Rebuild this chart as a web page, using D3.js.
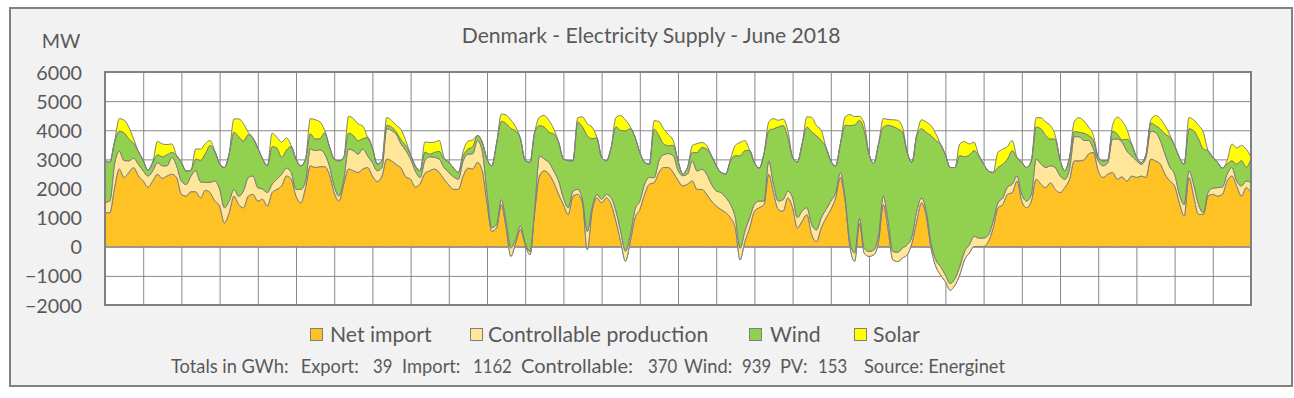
<!DOCTYPE html>
<html>
<head>
<meta charset="utf-8">
<script src="https://cdn.jsdelivr.net/npm/d3@7/dist/d3.min.js"></script>
<style>
html,body{margin:0;padding:0;background:#ffffff;}
svg{display:block;}
text{font-family:Lato,"Open Sans",sans-serif;fill:#595959;}
</style>
</head>
<body>
<svg id="chart" width="1294" height="398"></svg>
<script>
const chartTitle = "Denmark - Electricity Supply - June 2018";
const yUnit = "MW";
const yTickValues = [-2000,-1000,0,1000,2000,3000,4000,5000,6000];
const seriesKeys = ["net","ctrl","wind","solar"];
const seriesNames = ["Net import","Controllable production","Wind","Solar"];
const seriesColors = ["#FFC224","#FFE699","#92D050","#FFFF00"];
const totalsLabel = "Totals in GWh:";
const totalNames = ["Export:","Import:","Controllable:","Wind:","PV:"];
const totalValues = [39,1162,370,939,153];
const sourceText = "Source: Energinet";
const dayCount = 30;
// hour of month for each sample (every 3 hours, June 1 00:00 .. July 1 00:00)
const hours = d3.range(0, 721, 3);

const netImport = [
1170,1170,2030,2670,2380,2550,2720,2430,
2260,2050,2260,2490,2350,2430,2490,2380,
1800,1740,1890,1890,1680,1940,1860,1570,
1400,820,1170,1740,1450,1340,1740,1800,
1570,1630,1400,1860,1970,2090,2430,2320,
1740,1510,2030,2780,2720,2750,2750,2490,
1860,1570,2150,2670,2610,2550,2670,2720,
2430,2240,2430,3010,2950,2820,2700,2400,
2320,2050,2170,2520,2610,2670,2550,2320,
2120,1970,1970,2430,2700,2670,2900,2610,
1510,530,650,1450,650,-330,130,590,
70,-280,1220,2430,2610,2490,2200,1800,
1450,1110,1740,1800,1510,-100,1220,1680,
1510,1680,1450,880,180,-500,180,990,
1280,1800,2150,2200,2550,2720,2720,2550,
2280,2090,2150,2260,1970,1970,1800,1570,
1400,1280,1170,990,650,-450,180,650,
1220,1340,1450,2490,1860,1280,1220,1680,
1340,650,880,1110,420,180,650,990,
1280,1680,2380,1570,10,-500,800,-220,
-330,-280,180,1450,590,-450,-510,-390,
-280,130,880,1510,1050,-50,-680,-970,
-1200,-1490,-1320,-970,-450,-220,10,10,
10,180,650,1340,1450,1800,1860,2260,
1570,1340,1570,2320,2150,2030,2200,1970,
1860,2030,2320,2950,2950,2980,3190,3240,
2610,2380,2490,2550,2320,2400,2250,2430,
2380,2430,2380,3010,2950,2840,2490,2260,
2090,1510,1050,2380,1740,1110,1110,1740,
1800,1740,1800,2260,2430,2090,1740,2030,
1860];

const controllable = [
350,400,810,610,580,400,320,400,
350,380,350,400,430,350,580,400,
460,400,540,720,550,270,350,690,
580,520,400,230,290,580,630,630,
460,350,460,290,350,400,270,230,
230,460,230,580,580,580,440,290,
230,170,170,690,690,630,690,400,
460,370,290,1040,1040,1040,830,900,
690,550,210,440,480,400,460,400,
430,430,350,520,480,520,750,690,
350,120,120,170,230,290,120,120,
60,120,120,690,400,400,400,460,
230,230,170,170,120,630,120,120,
120,120,230,350,350,350,230,290,
290,350,230,170,400,440,480,580,
350,350,350,690,630,690,690,580,
520,580,520,460,350,400,350,350,
230,230,120,460,290,290,400,230,
350,350,350,230,350,400,350,290,
290,170,170,120,170,290,170,170,
170,170,230,290,290,290,320,350,
350,230,350,170,170,170,230,290,
230,230,230,290,290,290,350,290,
290,230,230,170,230,250,290,170,
230,230,230,690,690,690,580,750,
580,290,350,830,830,670,460,120,
350,400,400,1150,1380,1190,1040,690,
580,400,690,960,980,810,690,480,
400,290,400,230,400,350,60,120,
210,290,250,230,290,170,350,230,
350];

const wind = [
1440,1330,750,690,950,750,510,440,
350,200,290,270,310,380,170,350,
630,460,200,400,740,980,1270,1020,
870,1380,1620,1960,2040,1710,1480,1300,
1360,1040,920,1290,1070,580,620,890,
1040,810,750,520,400,380,720,660,
920,1210,750,540,520,460,350,630,
500,230,230,120,120,80,140,170,
150,170,230,290,90,170,270,290,
350,300,230,170,170,250,170,290,
1150,2130,2770,2690,3350,4100,3730,3000,
2830,3060,2600,1040,1100,1040,1270,1330,
1330,1620,1040,2310,2480,3290,2370,1940,
1440,1150,1730,2890,3460,4130,3640,2480,
1670,750,460,1670,870,370,270,350,
320,60,230,290,630,750,870,980,
870,690,810,1500,2130,3170,2770,2310,
1440,1130,1620,1040,1900,2540,2540,1850,
1380,1900,2310,2770,3170,3230,2650,2130,
1380,920,980,2480,3980,4390,3370,4040,
3350,2970,3120,2370,3290,4290,4240,3980,
3170,2540,2600,2370,2710,3690,4100,4190,
4130,3980,3810,3810,3250,3080,2940,2830,
2540,2190,1670,1210,1150,960,1150,630,
1100,1150,1150,1100,1210,1100,920,980,
550,290,400,180,150,250,170,290,
120,170,80,270,170,80,400,400,
120,60,90,280,230,400,690,1020,
980,1270,1380,1440,1850,2250,2190,1440,
1060,870,650,350,230,580,870,480,
810];

const solar = [
0,0,20,430,440,400,150,0,
0,0,0,460,440,350,290,0,
0,0,0,350,380,350,170,0,
0,0,0,460,610,600,80,0,
0,0,0,460,370,520,420,30,
0,0,0,520,660,580,90,0,
0,0,0,580,580,580,430,0,
0,0,0,270,230,230,350,170,
0,0,0,350,400,350,370,60,
0,0,0,150,270,230,0,0,
0,0,0,250,290,290,140,0,
0,0,0,290,400,400,170,0,
0,0,0,150,350,400,400,20,
0,0,0,320,520,370,80,0,
0,0,0,290,480,520,380,170,
0,0,0,230,310,170,120,0,
0,0,0,60,350,460,350,0,
0,0,0,290,350,230,230,230,
0,0,0,350,500,350,350,0,
0,0,0,290,380,290,140,230,
0,0,0,290,200,230,290,170,
0,0,0,310,350,350,230,0,
0,0,0,400,520,380,290,0,
0,0,0,520,520,430,350,0,
0,0,0,320,380,460,460,120,
0,0,0,350,500,420,290,170,
0,0,0,200,580,650,350,0,
0,0,0,90,350,350,290,90,
0,0,0,380,370,460,580,0,
0,0,0,120,580,550,520,610,
60];

// ---------- layout ----------
const svg = d3.select("#chart");
const P = {left:105, right:1251, top:72, bottom:305};
const textColor = "#595959";

svg.append("rect").attr("x",10).attr("y",8).attr("width",1282).attr("height",378)
  .attr("fill","#f2f2f2").attr("stroke","#808080").attr("stroke-width",2);
svg.append("rect").attr("x",P.left).attr("y",P.top).attr("width",P.right-P.left).attr("height",P.bottom-P.top)
  .attr("fill","#ffffff");

const x = d3.scaleLinear().domain([0, dayCount*24]).range([P.left, P.right]);
const y = d3.scaleLinear().domain([-2000, 6000]).range([P.bottom, P.top]);

// gridlines
const gy = svg.append("g").attr("transform",`translate(${P.left},0)`)
  .call(d3.axisLeft(y).tickValues(yTickValues).tickSize(-(P.right-P.left)).tickFormat(""));
gy.select(".domain").remove();
gy.selectAll("line").attr("stroke","#888888").attr("stroke-width",1);
const gx = svg.append("g").attr("transform",`translate(0,${P.bottom})`)
  .call(d3.axisBottom(x).tickValues(d3.range(24, dayCount*24, 24)).tickSize(-(P.bottom-P.top)).tickFormat(""));
gx.select(".domain").remove();
gx.selectAll("line").attr("stroke","#888888").attr("stroke-width",1);

// stacked areas
const rows = hours.map((h,i)=>({hour:h, net:netImport[i], ctrl:controllable[i], wind:wind[i], solar:solar[i]}));
const stacked = d3.stack().keys(seriesKeys)(rows);
const area = d3.area().x(d=>x(d.data.hour)).y0(d=>y(d[0])).y1(d=>y(d[1])).curve(d3.curveMonotoneX);
svg.append("g").selectAll("path").data(stacked).join("path")
  .attr("d", area)
  .attr("fill",(d,i)=>seriesColors[i])
  .attr("stroke","#7f7f7f").attr("stroke-width",1).attr("stroke-linejoin","round");

// plot border
svg.append("rect").attr("x",P.left).attr("y",P.top).attr("width",P.right-P.left).attr("height",P.bottom-P.top)
  .attr("fill","none").attr("stroke","#808080").attr("stroke-width",2);

// text sizing helper
const meas = svg.append("text").attr("font-size",100).attr("visibility","hidden");
function sizeFor(str, target){ meas.text(str); return 100*target/meas.node().getComputedTextLength(); }

// title
svg.append("text").attr("x",651.2).attr("y",42.5).attr("text-anchor","middle")
  .attr("font-size", sizeFor(chartTitle, 379)).text(chartTitle);

// y axis labels
const tickFs = sizeFor("6000", 45.7);
const ya = svg.append("g").attr("transform",`translate(${P.left},0)`)
  .call(d3.axisLeft(y).tickValues(yTickValues).tickSize(0).tickPadding(23).tickFormat(d3.format("d")));
ya.select(".domain").remove();
ya.attr("font-family",null).attr("font-size",tickFs);
ya.selectAll("text").attr("fill",textColor).attr("dy","0.36em");
svg.append("text").attr("x",80.5).attr("y",48).attr("text-anchor","end").attr("font-size",tickFs).text(yUnit);

// legend
const legFs = sizeFor(seriesNames[0], 101.7);
const legSquareX = [310, 470, 749, 854];
const legTextX = [330, 488, 770, 873];
const leg = svg.append("g");
seriesNames.forEach((name,i)=>{
  leg.append("rect").attr("x",legSquareX[i]+0.5).attr("y",328.5).attr("width",12).attr("height",12)
    .attr("fill",seriesColors[i]).attr("stroke","#7f7f7f").attr("stroke-width",1);
  leg.append("text").attr("x",legTextX[i]).attr("y",341.5).attr("font-size",legFs).text(name);
});

// footer
const footerPieces = [totalsLabel];
totalNames.forEach((n,i)=>{ footerPieces.push(n); footerPieces.push(String(totalValues[i])); });
footerPieces.push(sourceText);
const footerX = [171, 300.7, 373, 402, 473, 521, 648, 684, 742, 780, 818, 864];
const footFs = 18.3;
const digitW = 9.7;
footerPieces.forEach((t,i)=>{
  const tx = svg.append("text").attr("x",footerX[i]).attr("y",372.5).attr("font-size",footFs).text(t);
  if (/^\d+$/.test(t)) tx.attr("textLength", digitW*t.length).attr("lengthAdjust","spacingAndGlyphs");
  if (t === "Controllable:") tx.attr("textLength", 112).attr("lengthAdjust","spacingAndGlyphs");
});
meas.remove();
</script>
</body>
</html>
